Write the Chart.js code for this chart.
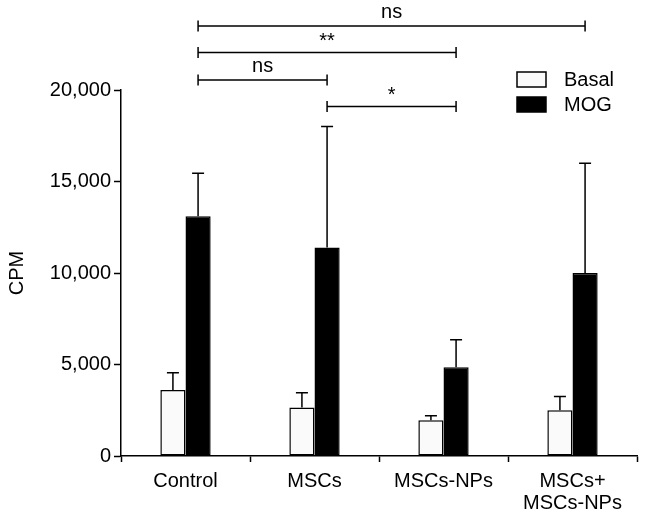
<!DOCTYPE html>
<html lang="en">
<head>
    <meta charset="UTF-8">
    <title>CPM by group</title>
    <script src="https://cdn.jsdelivr.net/npm/chart.js"></script>
    <style>
        body { margin: 0; background: #fff; }
        #cpmChart { display: block; }
    </style>
</head>
<body>
    <canvas id="cpmChart" width="654" height="521"></canvas>

    <script>
        // Data
        const groups = ['Control', 'MSCs', 'MSCs-NPs', ['MSCs+', 'MSCs-NPs']];
        const basalMean = [3600, 2650, 1950, 2500];
        const basalErr = [950, 800, 250, 750];
        const mogMean = [13100, 11400, 4850, 10000];
        const mogErr = [2350, 6600, 1500, 6000];
        const yTicks = [0, 5000, 10000, 15000, 20000];

        // significance brackets: [from group, to group, level (CPM), label]
        const brackets = [
            [0, 3, 23500, 'ns'],
            [0, 2, 22050, '**'],
            [0, 1, 20550, 'ns'],
            [1, 2, 19100, '*']
        ];

        const FONT = "'Liberation Sans', Arial, sans-serif";
        const FS = 20;

        // draws the upward error bars, the brackets and the legend
        const extras = {
            id: 'extras',
            afterDatasetsDraw(chart) {
                const ctx = chart.ctx;
                const y = chart.scales.y;
                const errs = [basalErr, mogErr];
                ctx.save();
                ctx.strokeStyle = '#000';
                ctx.lineWidth = 1.5;

                chart.data.datasets.forEach((ds, i) => {
                    const meta = chart.getDatasetMeta(i);
                    meta.data.forEach((bar, j) => {
                        const top = y.getPixelForValue(ds.data[j] + errs[i][j]);
                        ctx.beginPath();
                        ctx.moveTo(bar.x, bar.y);
                        ctx.lineTo(bar.x, top);
                        ctx.moveTo(bar.x - 6, top);
                        ctx.lineTo(bar.x + 6, top);
                        ctx.stroke();
                    });
                });

                // brackets between MOG bars
                const mogBars = chart.getDatasetMeta(1).data;
                ctx.fillStyle = '#000';
                ctx.textAlign = 'center';
                ctx.textBaseline = 'bottom';
                brackets.forEach(([a, b, level, label]) => {
                    const x1 = mogBars[a].x, x2 = mogBars[b].x;
                    const py = y.getPixelForValue(level);
                    ctx.beginPath();
                    ctx.moveTo(x1, py);
                    ctx.lineTo(x2, py);
                    ctx.moveTo(x1, py - 5.5);
                    ctx.lineTo(x1, py + 5.5);
                    ctx.moveTo(x2, py - 5.5);
                    ctx.lineTo(x2, py + 5.5);
                    ctx.stroke();
                    ctx.font = FS + 'px ' + FONT;
                    ctx.fillText(label, (x1 + x2) / 2, label === 'ns' ? py - 3 : py - 1);
                });

                // legend
                ctx.textAlign = 'left';
                ctx.textBaseline = 'middle';
                ctx.font = FS + 'px ' + FONT;
                chart.data.datasets.forEach((ds, i) => {
                    const bx = 517, by = 72 + i * 25;
                    ctx.fillStyle = ds.backgroundColor;
                    ctx.fillRect(bx, by, 29, 15);
                    ctx.strokeRect(bx, by, 29, 15);
                    ctx.fillStyle = '#000';
                    ctx.fillText(ds.label, 564, by + 8);
                });
                ctx.restore();
            }
        };

        new Chart(document.getElementById('cpmChart'), {
            type: 'bar',
            data: {
                labels: groups,
                datasets: [
                    {
                        label: 'Basal',
                        data: basalMean,
                        backgroundColor: '#fafafa',
                        borderColor: '#000',
                        borderWidth: 1.5,
                        borderSkipped: false
                    },
                    {
                        label: 'MOG',
                        data: mogMean,
                        backgroundColor: '#000',
                        borderColor: '#000',
                        borderWidth: 1.5,
                        borderSkipped: false
                    }
                ]
            },
            options: {
                responsive: false,
                animation: false,
                categoryPercentage: 0.39,
                barPercentage: 1,
                layout: { padding: { top: 90, right: 17, left: 0, bottom: 0 } },
                plugins: {
                    legend: { display: false },
                    tooltip: { enabled: false }
                },
                scales: {
                    x: {
                        grid: {
                            offset: true,
                            drawOnChartArea: false,
                            tickLength: 6,
                            tickWidth: 1.5,
                            color: '#000'
                        },
                        border: { color: '#000', width: 1.5 },
                        ticks: {
                            color: '#000',
                            font: { family: FONT, size: FS, lineHeight: 1.1 },
                            padding: 8,
                            maxRotation: 0,
                            autoSkip: false
                        },
                        afterFit(scale) { scale.height = 65; }
                    },
                    y: {
                        min: 0,
                        max: 20000,
                        afterBuildTicks(scale) {
                            scale.ticks = yTicks.map(v => ({ value: v }));
                        },
                        grid: {
                            drawOnChartArea: false,
                            tickLength: 7,
                            tickWidth: 1.5,
                            color: '#000'
                        },
                        border: { color: '#000', width: 1.5 },
                        ticks: {
                            color: '#000',
                            font: { family: FONT, size: FS },
                            padding: 3,
                            callback: v => v.toLocaleString('en-US')
                        },
                        title: {
                            display: true,
                            text: 'CPM',
                            color: '#000',
                            font: { family: FONT, size: FS },
                            padding: { top: 5, bottom: 2 }
                        },
                        afterFit(scale) { scale.width = 121; }
                    }
                }
            },
            plugins: [extras]
        });
    </script>
</body>
</html>
